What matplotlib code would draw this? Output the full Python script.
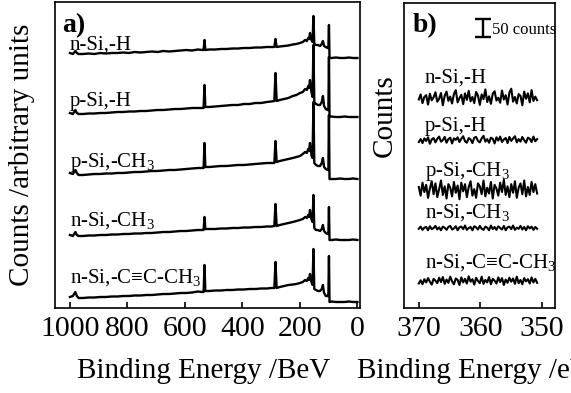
import numpy as np
import matplotlib
matplotlib.use("Agg")
import matplotlib.pyplot as plt

plt.rcParams['font.family'] = ['Liberation Serif', 'DejaVu Serif']
plt.rcParams['mathtext.fontset'] = 'custom'
plt.rcParams['mathtext.rm'] = 'Liberation Serif'
plt.rcParams['mathtext.it'] = 'Liberation Serif:italic'

# ---------------- data: panel a (survey spectra) ----------------
labels = ["n-Si,-H", "p-Si,-H", r"p-Si,-CH$_3$", r"n-Si,-CH$_3$", r"n-Si,-C≡C-CH$_3$"]

energy_a = [1000, 990, 981, 976, 970, 955, 935, 915, 895, 875, 855, 835, 815, 795, 775,
            755, 735, 715, 695, 675, 655, 635, 615, 595, 575, 555, 540, 535, 532, 529,
            515, 495, 475, 455, 435, 415, 395, 375, 355, 335, 315, 300, 289, 285, 281,
            270, 255, 240, 225, 212, 200, 190, 182, 176, 171, 168, 165, 160, 156, 153,
            150, 144, 137, 130, 124, 120, 116, 110, 104, 101, 99, 97, 90, 75, 60,
            45, 30, 15, 0]

n_si_h = [5, 4, 7, 5, 4, 4, 4.5, 4, 5, 4.5, 5, 5, 5.5, 5, 6,
          5.5, 6, 6.5, 6, 7, 6.5, 7, 7.5, 8, 7.5, 8.5, 8, 8, 18, 8,
          8.5, 8.5, 9, 9, 9.5, 9.5, 10, 10, 10.5, 10.5, 11, 11, 11, 19, 11,
          11.5, 12, 12.5, 13.5, 14, 15, 16, 18, 17, 20, 19, 25, 18, 16, 42,
          14, 13, 13, 12, 14, 17, 12, 11, 10, 10, 33, 0, 0, 0.5, 0,
          0, 0.5, 0, 0]

p_si_h = [4, 3, 7, 4, 3, 3, 3.5, 3.5, 4, 4, 4.5, 5, 5, 5.5, 5.5,
          6, 6, 6.5, 7, 7, 7.5, 8, 8, 8.5, 9, 9, 9, 9, 32, 10,
          10, 10.5, 11, 11.5, 12, 12, 13, 13, 14, 14, 15, 15.5, 16, 44, 16,
          17, 18, 19, 21, 22, 24, 25, 28, 27, 31, 29, 37, 25, 20, 72,
          15, 13, 12, 12, 15, 21, 11, 8, 7, 7, 60, 0, 0.5, 0, 0,
          0.5, 0, 0, 0]

p_si_ch3 = [6, 5, 9, 6, 4, 4, 4.5, 5, 5, 5.5, 5.5, 6, 6, 6.5, 7,
            7, 7.5, 8, 8, 8.5, 9, 9, 9.5, 10, 10.5, 11, 11, 11, 36, 12,
            12, 12.5, 13, 13, 13.5, 14, 14, 14.5, 15, 15.5, 16, 16, 16, 38, 17,
            18, 19, 20, 21, 22, 23, 25, 27, 26, 30, 28, 36, 24, 21, 77,
            16, 14, 13, 13, 16, 21, 12, 10, 9, 9, 64, 0, 0, 0, 0.5,
            0, 0, 0.5, 0]

n_si_ch3 = [5, 4, 8, 5, 4, 4, 4.5, 4.5, 5, 5, 5.5, 5.5, 6, 6, 6.5,
            6.5, 7, 7, 7.5, 8, 8, 8.5, 9, 9, 9.5, 10, 10, 10, 23, 11,
            11, 11, 11.5, 11.5, 12, 12, 12.5, 12.5, 13, 13, 13.5, 13.5, 14, 36, 14,
            15, 16, 17, 18, 19, 20, 21, 23, 22, 25, 23, 30, 21, 18, 45,
            12, 10, 10, 9, 11, 15, 9, 7, 6, 6, 33, 0, 0, 0.5, 0,
            0, 0, 0.5, 0]

n_si_ccch3 = [5, 6, 10, 6, 4, 4, 4.5, 4.5, 5, 5, 5.5, 5.5, 6, 6, 6.5,
              6.5, 7, 7, 7.5, 8, 8, 8.5, 9, 9, 9.5, 10.5, 10, 10, 37, 11,
              11, 11.5, 11.5, 12, 12, 12.5, 12.5, 13, 13, 13.5, 13.5, 14, 14, 40, 14,
              15, 16, 17, 17.5, 18, 19, 20, 22, 21, 24, 22, 28, 20, 17, 53,
              13, 12, 11, 11, 13, 17, 9, 6, 6, 6, 46, 0, 0.5, 0, 0,
              0, 0.5, 0, 0]

series_a = [n_si_h, p_si_h, p_si_ch3, n_si_ch3, n_si_ccch3]
offsets_a = [250, 191, 129, 68, 6]
xticks_a = [1000, 800, 600, 400, 200, 0]

# ---------------- data: panel b (zoomed region, counts) ----------------
energy_b = np.round(np.arange(370.0, 350.7, -0.3), 1)

b_n_si_h = [-4, 10, -14, 3, 8, -18, 12, -6, 2, 16, -10, -2, 14, -20, 6, 18, -8, 4, -15, 11,
            22, -12, 0, 9, -17, 13, -5, 20, -9, 3, -14, 17, 7, -19, 10, -3, 24, -11, 5, -16,
            12, 19, -7, 1, -13, 21, -4, 8, -18, 15, 26, -10, 3, -15, 11, 6, -20, 18, -2, 13,
            -12, 22, -8, 4, -6]
b_p_si_h = [-6, 2, -9, 4, -3, 7, -11, 1, 5, -7, 3, 9, -5, -1, 8, -8, 2, 6, -10, 4,
            0, 7, -6, 3, 10, -4, -8, 5, 1, -9, 6, 8, -3, -7, 4, 11, -5, 2, -8, 6,
            3, -10, 7, -2, 9, -6, 1, 5, -9, 8, -3, 4, 10, -7, 2, -5, 8, -1, -8, 6,
            3, -6, 9, -4, 2]
b_p_si_ch3 = [8, -16, 20, -6, 14, -22, 4, 24, -12, 18, -20, 2, 26, -14, 10, -24, 16, 6, -18, 22,
              -8, 12, -26, 20, -4, 16, -20, 8, 24, -16, 2, -22, 18, 10, -12, 26, -18, 6, -10, 22,
              -24, 14, 4, -16, 20, -6, 28, -14, 10, -20, 16, -8, 24, -22, 6, 18, -12, 26, -18, 8,
              -14, 22, -6, 16, -10]
b_n_si_ch3 = [-2, 4, -5, 1, 3, -6, 5, -3, 0, 6, -4, 2, -6, 4, 1, -5, 3, 6, -4, -1,
              5, -6, 2, 4, -3, 7, -5, 0, 3, -6, 5, 2, -4, 6, -2, -5, 4, 1, -6, 7,
              -3, 3, -5, 5, 0, -4, 6, -6, 2, 4, -3, 7, -5, 1, -2, 6, -4, 3, -6, 5,
              -1, 4, -5, 3, -2]
b_n_si_ccch3 = [-7, 2, -9, 5, -4, 8, -2, -10, 6, 1, -6, 9, -3, 11, -8, 4, -5, 12, -1, -9,
                7, 3, -11, 10, -4, 6, -7, 13, -2, 5, -10, 9, 0, -6, 12, -8, 3, -4, 11, -9,
                6, 1, -7, 10, -3, 8, -11, 4, -5, 9, -2, 7, -8, 12, -6, 3, -9, 8, -1, 5,
                -7, 10, -4, 6, -5]

series_b = [b_n_si_h, b_p_si_h, b_p_si_ch3, b_n_si_ch3, b_n_si_ccch3]
offsets_b = [583, 467, 328, 222, 75]
xticks_b = [370, 360, 350]
scale_counts = 50

# ---------------- figure ----------------
W, H = 571, 393
fig = plt.figure(figsize=(W / 100, H / 100), dpi=100)
axa = fig.add_axes([55 / W, 85 / H, 305 / W, 306 / H])
axb = fig.add_axes([404 / W, 85 / H, 151 / W, 305 / H])

for vals, off in zip(series_a, offsets_a):
    axa.plot(energy_a, np.array(vals) + off, color='k', lw=1.7)
axa.set_xlim(1052, -9)
axa.set_ylim(0, 306)
axa.set_xticks(xticks_a)
axa.set_yticks([])

for vals, off in zip(series_b, offsets_b):
    axb.plot(energy_b, np.array(vals) + off, color='k', lw=1.5)
axb.set_xlim(372.4, 347.9)
axb.set_ylim(0, 847)
axb.set_xticks(xticks_b)
axb.set_yticks([])

for ax in (axa, axb):
    for s in ax.spines.values():
        s.set_linewidth(1.2)
    ax.tick_params(axis='x', direction='in', length=4, width=1.2, labelsize=21.5, pad=6)

# trace labels panel a
lab_y_a = [0.843, 0.660, 0.461, 0.271, 0.082]
for lab, yy in zip(labels, lab_y_a):
    axa.text(0.049, yy, lab, transform=axa.transAxes, fontsize=15, ha='left', va='baseline')
axa.text(0.023, 0.902, "a)", transform=axa.transAxes, fontsize=20, fontweight='bold',
         ha='left', va='baseline')

lab_y_b = [0.738, 0.580, 0.433, 0.295, 0.134]
for lab, yy in zip(labels, lab_y_b):
    axb.text(0.139, yy, lab, transform=axb.transAxes, fontsize=15, ha='left', va='baseline')
axb.text(0.06, 0.905, "b)", transform=axb.transAxes, fontsize=20, fontweight='bold',
         ha='left', va='baseline')

# scale bar (50 counts)
axb.errorbar([359.6], [778], yerr=[scale_counts / 2], fmt='none', ecolor='k',
             elinewidth=1.7, capsize=5.5, capthick=1.7)
axb.text(358.1, 772, "50 counts", fontsize=12, ha='left', va='center', clip_on=False)

# axis labels
fig.text(22 / W, 1 - 155 / H, "Counts /arbitrary units", rotation=90, fontsize=21,
         ha='center', va='center')
fig.text(385 / W, 1 - 116 / H, "Counts", rotation=90, fontsize=21, ha='center', va='center')
fig.text(204 / W, 1 - 378 / H, "Binding Energy /BeV", fontsize=21, ha='center', va='baseline')
fig.text(357 / W, 1 - 378 / H, "Binding Energy /eV", fontsize=21, ha='left', va='baseline')

fig.savefig("out.png", dpi=100)
